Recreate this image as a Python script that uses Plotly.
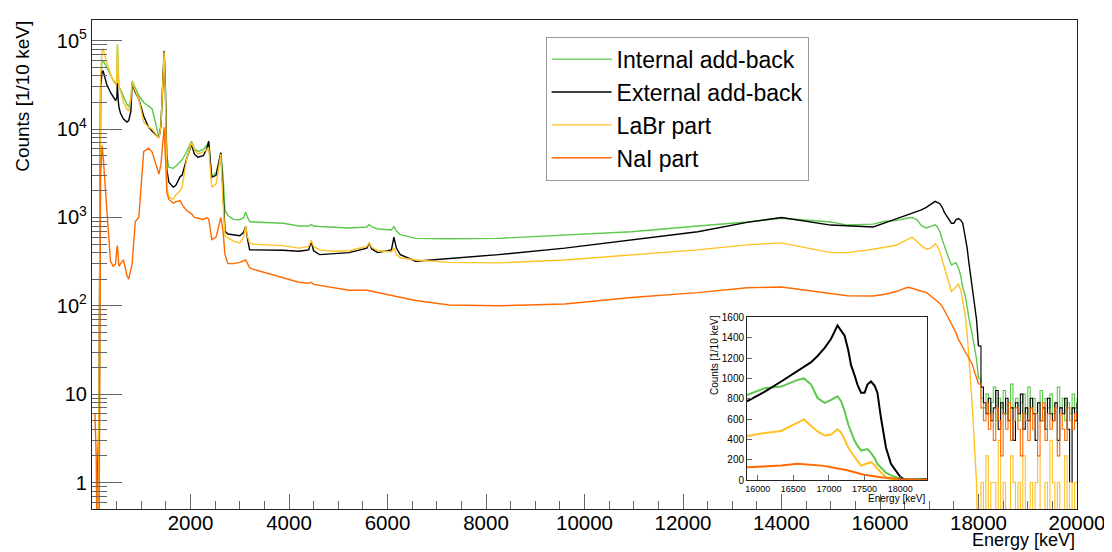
import numpy as np
import plotly.graph_objects as go

# energy grid of the spectrum body (keV)
energy = [60, 85, 105, 140, 175, 205, 225, 300, 375, 430, 480, 505, 515, 530, 545, 580,
          640, 710, 745, 790, 815, 880, 950, 1050, 1150, 1220, 1320, 1360, 1400, 1440,
          1465, 1490, 1520, 1560, 1650, 1700, 1790, 1830, 1920, 2020, 2080, 2150, 2260,
          2330, 2370, 2400, 2430, 2520, 2570, 2615, 2660, 2700, 2760, 2870, 3000, 3080,
          3120, 3160, 3200, 3270, 3540, 3880, 4200, 4400, 4450, 4500, 4620, 4890, 5220,
          5580, 5630, 5680, 5800, 6080, 6130, 6180, 6260, 6570, 7250, 8260, 9600, 10950,
          12300, 13300, 14000, 15000, 15340, 15860, 16100, 16330, 16560, 16650, 16750,
          16840, 16940, 17030, 17120, 17170, 17220, 17270, 17310, 17360, 17400, 17450,
          17500, 17540, 17590, 17640, 17680, 17730, 17770, 17800, 17870, 17960, 18000]

internal = [0, 0, 0, 0, 35000, 60000, 60000, 50000, 40000, 36000, 33000, 34000, 90000,
            33000, 30000, 28000, 23000, 19000, 18000, 22000, 35000, 29000, 24000, 20000,
            18000, 17000, 10000, 8000, 11000, 35000, 76000, 30000, 5000, 3700, 3600, 3800,
            4200, 4500, 5500, 7300, 6000, 5600, 5900, 6500, 7000, 4500, 2950, 3200, 4000,
            5400, 3000, 1200, 1050, 950, 940, 1000, 1150, 1000, 900, 890, 870, 860, 800,
            800, 830, 800, 790, 780, 760, 780, 830, 780, 740, 720, 790, 700, 640, 580, 575,
            580, 630, 690, 800, 890, 980, 890, 820, 840, 905, 920, 986, 1000, 940, 808, 760,
            790, 825, 776, 680, 550, 470, 388, 340, 291, 300, 307, 270, 220, 162, 130, 97,
            75, 48, 25, 15]

external = [0, 0, 1, 4, 30000, 44000, 46000, 32000, 26000, 23000, 21000, 23000, 33000,
            22000, 18000, 15000, 13000, 12000, 12500, 16000, 33000, 26000, 22000, 14000,
            10500, 9500, 8300, 8000, 11000, 35000, 76000, 28000, 3500, 2500, 2200, 2300,
            2900, 3000, 4600, 6700, 5200, 4800, 5000, 6000, 7300, 4500, 2850, 3000, 4000,
            5400, 2000, 700, 650, 640, 620, 680, 790, 560, 430, 430, 430, 425, 415, 430,
            535, 420, 380, 390, 400, 450, 515, 440, 400, 430, 600, 450, 380, 320, 345, 380,
            450, 560, 690, 880, 1000, 820, 800, 780, 870, 970, 1070, 1110, 1160, 1220, 1300,
            1390, 1520, 1470, 1420, 1280, 1130, 1030, 940, 860, 860, 940, 970, 930, 860,
            614, 450, 323, 162, 70, 35]

labr = [0, 0, 0, 8, 40000, 78000, 81000, 56000, 42000, 35000, 32000, 34000, 92000, 33000,
        30000, 27000, 20000, 17000, 16000, 22000, 34000, 27000, 22000, 12000, 10500, 10000,
        8500, 7900, 11000, 35000, 74000, 25000, 2200, 1700, 1600, 1800, 2000, 2200, 4500,
        7000, 5800, 5200, 5500, 5800, 6200, 3500, 2200, 2400, 3600, 5200, 1500, 620, 590,
        540, 515, 600, 790, 600, 515, 500, 490, 480, 450, 470, 550, 470, 430, 415, 420, 470,
        515, 460, 420, 410, 450, 380, 350, 330, 310, 306, 330, 380, 430, 490, 515, 400, 400,
        436, 465, 485, 565, 598, 533, 480, 440, 450, 501, 470, 400, 323, 280, 226, 190, 145,
        155, 162, 178, 150, 113, 80, 48, 30, 8, 1, 0]

nai = [6, 2, 0, 0, 3000, 6500, 5000, 1300, 320, 280, 300, 450, 480, 380, 280, 300, 330,
       220, 200, 260, 300, 900, 1000, 5600, 6100, 5500, 3600, 3100, 4000, 7000, 10500,
       5000, 1900, 1600, 1450, 1500, 1550, 1400, 1200, 1100, 1000, 980, 950, 990, 960, 750,
       560, 600, 800, 1000, 700, 380, 300, 300, 310, 320, 330, 300, 270, 260, 235, 210, 185,
       180, 185, 175, 170, 160, 150, 150, 148, 145, 140, 132, 130, 128, 125, 115, 102, 100,
       105, 124, 141, 160, 163, 136, 130, 129, 135, 145, 162, 158, 150, 146, 142, 129, 120,
       112, 105, 97, 88, 78, 72, 62, 55, 50, 42, 38, 34, 30, 28, 26, 22, 15, 13]

# noisy tail above the endpoint, 50 keV bins from 18000 to 20000 keV
tail_energy = list(range(18000, 20001, 50))
tail_internal = [15, 9, 7, 10, 6, 8, 12, 5, 9, 7, 11, 6, 8, 13, 7, 9, 5, 8, 10, 6, 12,
                 7, 9, 6, 8, 11, 5, 9, 7, 10, 6, 8, 12, 7, 9, 5, 8, 6, 10, 7, 9]
tail_external = [35, 12, 8, 6, 9, 5, 7, 11, 4, 8, 6, 9, 5, 7, 3, 8, 6, 10, 4, 7, 5,
                 9, 6, 3, 8, 5, 7, 4, 9, 6, 5, 8, 3, 7, 6, 9, 4, 1, 7, 5, 8]
tail_labr = [0, 1, 0, 2, 0, 1, 1, 0, 3, 0, 1, 0, 0, 2, 1, 0, 1, 0, 2, 0, 0,
             1, 0, 1, 2, 0, 0, 1, 0, 3, 1, 0, 1, 0, 0, 2, 0, 1, 0, 1, 1]
tail_nai = [13, 7, 5, 8, 4, 6, 3, 7, 5, 2, 6, 4, 8, 3, 5, 7, 4, 2, 6, 5, 3,
            7, 4, 6, 2, 5, 8, 3, 6, 4, 5, 7, 2, 6, 4, 3, 7, 5, 4, 6, 5]

names = ["Internal add-back", "External add-back", "LaBr part", "NaI part"]
colors = ["#5cc84c", "#000000", "#ffc224", "#ff6a00"]
bodies = [internal, external, labr, nai]
tails = [tail_internal, tail_external, tail_labr, tail_nai]

FONT = "Liberation Sans, Arial, sans-serif"
AX = "#222222"
TICK = "#666666"

fig = go.Figure()

for name, col, body, tail in zip(names, colors, bodies, tails):
    # empty bins are pushed below the log axis, like ROOT does
    fig.add_trace(go.Scatter(x=energy, y=np.maximum(body, 0.1), mode="lines", name=name,
                             line=dict(color=col, width=1.4), xaxis="x", yaxis="y"))
    fig.add_trace(go.Scatter(x=tail_energy, y=np.maximum(tail, 0.1), mode="lines",
                             line=dict(color=col, width=1.1, shape="hv"),
                             showlegend=False, xaxis="x", yaxis="y"))

# inset: same spectra on a linear scale
for col, body, tail in zip(colors, bodies, tails):
    fig.add_trace(go.Scatter(x=energy + tail_energy[1:], y=list(body) + list(tail[1:]),
                             mode="lines", line=dict(color=col, width=2),
                             showlegend=False, xaxis="x2", yaxis="y2"))

ymajor = [1, 10, 100, 1000, 10000, 100000]
ytext = ["1", "10", "10<sup>2</sup>", "10<sup>3</sup>", "10<sup>4</sup>", "10<sup>5</sup>"]
yminor = [m * d for d in [0.1, 1, 10, 100, 1000, 10000, 100000] for m in range(2, 10)]

# the page body adds 8 px around the figure, so the figure is 8 px smaller
fig.update_layout(
    width=1104, height=544,
    margin=dict(l=84, r=32, t=6, b=43),
    paper_bgcolor="white", plot_bgcolor="white",
    font=dict(family=FONT, color="black"),
    xaxis=dict(range=[0, 20000], domain=[0, 1], showgrid=False, zeroline=False,
               showline=True, linecolor=AX, linewidth=1.2, mirror=True,
               tickvals=list(range(2000, 20001, 2000)), tickformat="d",
               ticks="inside", ticklen=15, tickcolor=TICK, tickfont=dict(size=20.5),
               ticklabelstandoff=-5,
               minor=dict(dtick=500, tick0=0, ticks="inside", ticklen=8, tickcolor=TICK)),
    yaxis=dict(type="log", range=[-0.30, 5.235], domain=[0, 1], showgrid=False,
               zeroline=False, showline=True, linecolor=AX, linewidth=1.2, mirror=True,
               tickvals=ymajor, ticktext=ytext, ticks="inside", ticklen=30,
               tickcolor=TICK, tickfont=dict(size=20),
               minor=dict(tickvals=yminor, ticks="inside", ticklen=15, tickcolor=TICK)),
    xaxis2=dict(range=[15850, 18380], domain=[0.665, 0.848], anchor="y2",
                showgrid=False, zeroline=False, showline=True, linecolor=AX,
                linewidth=1, mirror=True, tickvals=[16000, 16500, 17000, 17500, 18000],
                tickformat="d", ticks="inside", ticklen=5, tickcolor=TICK,
                tickfont=dict(size=9)),
    yaxis2=dict(range=[0, 1600], domain=[0.0586, 0.392], anchor="x2",
                showgrid=False, zeroline=False, showline=True, linecolor=AX,
                linewidth=1, mirror=True, tickvals=list(range(0, 1601, 200)),
                ticks="inside", ticklen=5, tickcolor=TICK, tickfont=dict(size=10)),
    legend=dict(x=0.4605, y=0.966, xanchor="left", yanchor="top",
                bgcolor="white", bordercolor="#999999", borderwidth=1,
                font=dict(size=23), itemwidth=60, tracegroupgap=0),
    annotations=[
        dict(text="Counts [1/10 keV]", x=-0.0705, y=0.844, xref="paper", yref="paper",
             xanchor="center", yanchor="middle", textangle=-90, showarrow=False,
             font=dict(size=19)),
        dict(text="Energy [keV]", x=1.0, y=-0.063, xref="paper", yref="paper",
             xanchor="right", yanchor="middle", showarrow=False, font=dict(size=18)),
        dict(text="Counts [1/10 keV]", x=0.6325, y=0.315, xref="paper", yref="paper",
             xanchor="center", yanchor="middle", textangle=-90, showarrow=False,
             font=dict(size=10)),
        dict(text="Energy [keV]", x=0.848, y=0.022, xref="paper", yref="paper",
             xanchor="right", yanchor="middle", showarrow=False, font=dict(size=10)),
    ],
)

fig.write_html("out.html")
